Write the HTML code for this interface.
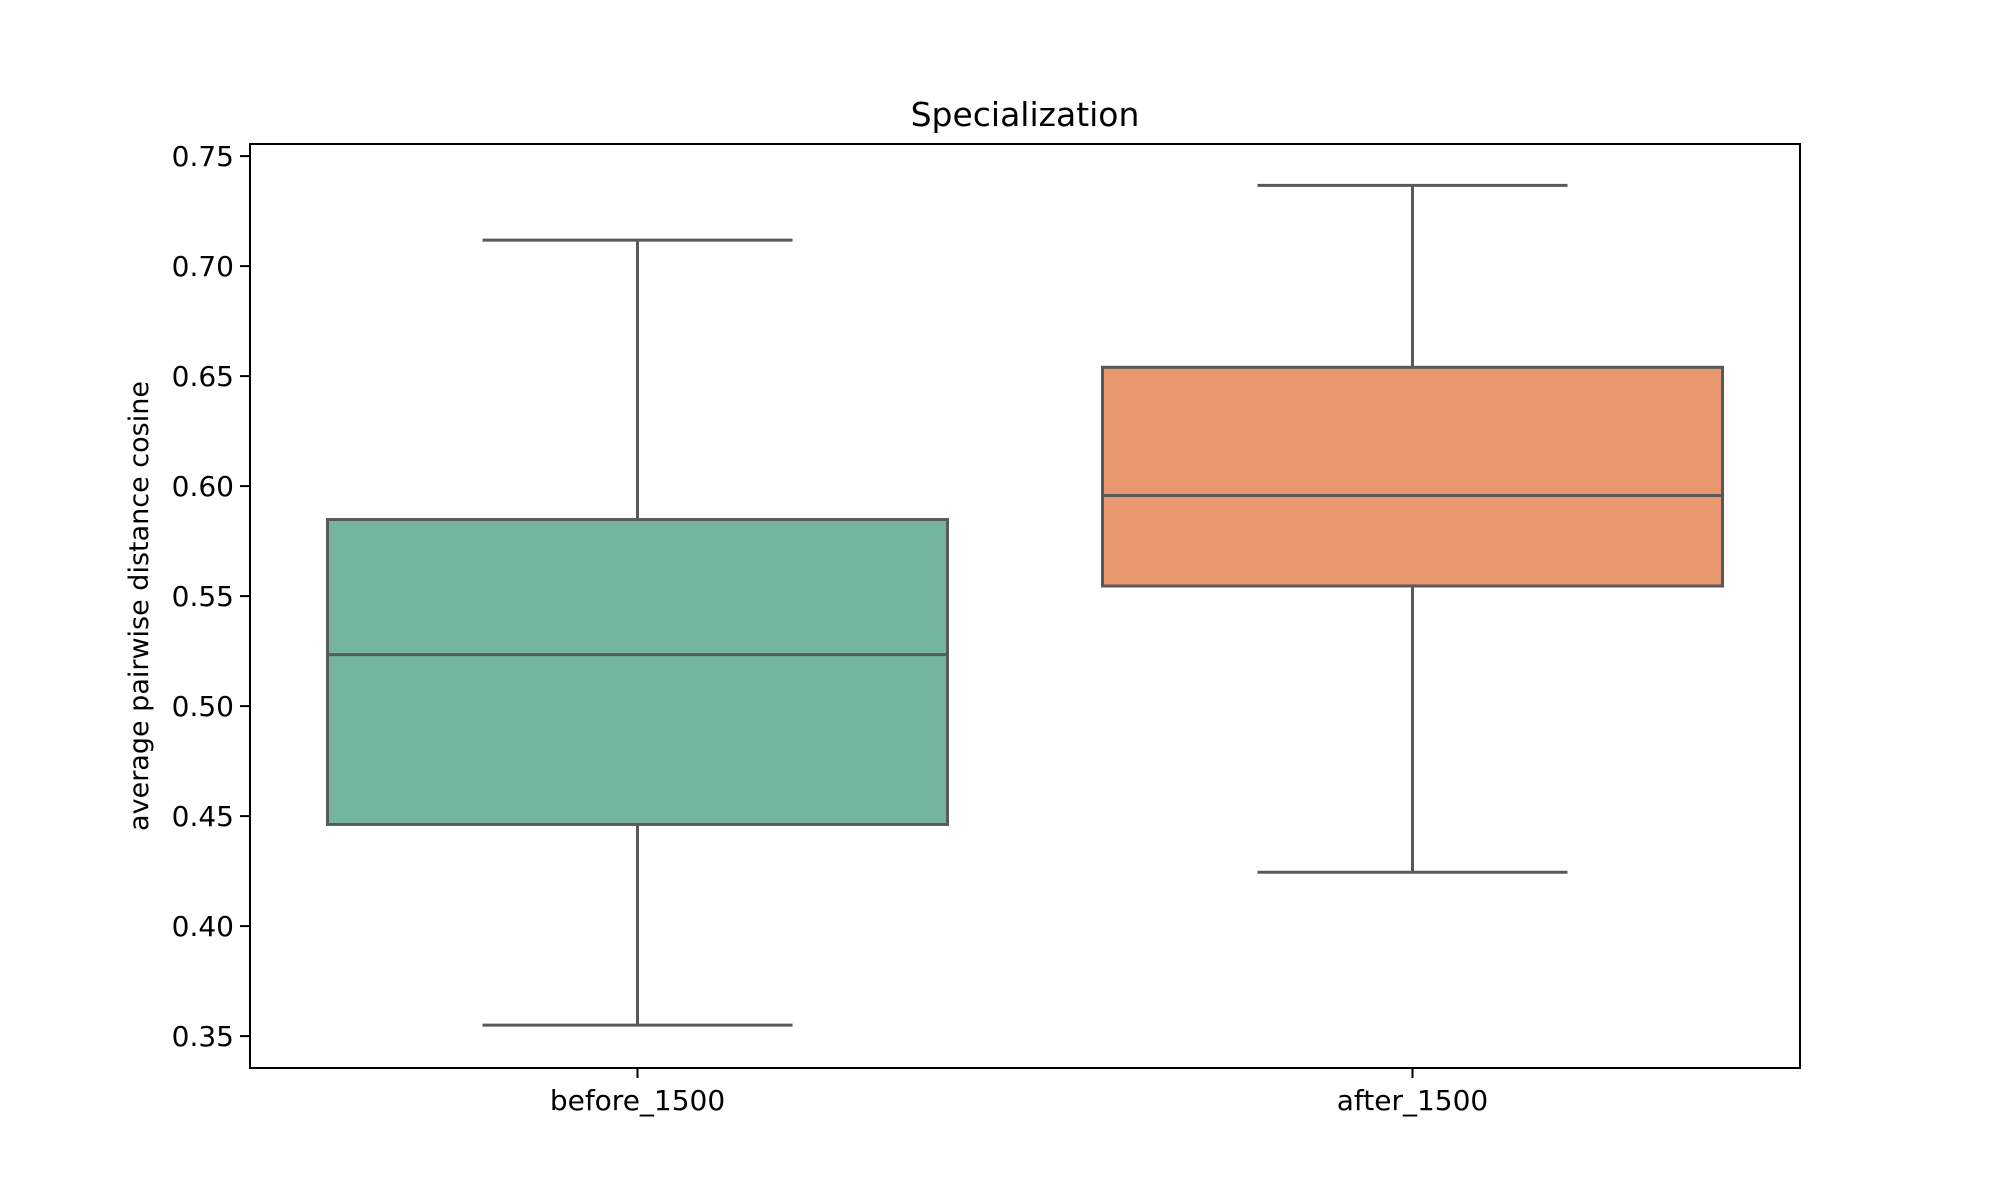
<!DOCTYPE html>
<html><head><meta charset="utf-8"><style>
html,body{margin:0;padding:0;background:#fff}
svg{display:block;font-family:"DejaVu Sans","Liberation Sans",sans-serif}
</style></head><body>
<svg id="chart" width="2000" height="1200" viewBox="0 0 2000 1200" xmlns="http://www.w3.org/2000/svg">
<rect width="2000" height="1200" fill="#fff"/>
<text x="1025" y="126" font-size="33" text-anchor="middle" fill="#000">Specialization</text>
<text transform="translate(148,606) rotate(-90)" font-size="27" text-anchor="middle" fill="#000">average pairwise distance cosine</text>
<g id="marks"></g>
<g id="axes"></g>
</svg>
<script>
const categories = ["before_1500", "after_1500"];
const whiskerLow = [0.355, 0.4245];
const q1Values = [0.4462, 0.5546];
const medians = [0.5234, 0.5957];
const q3Values = [0.5848, 0.6540];
const whiskerHigh = [0.7118, 0.7367];
const boxColors = ["#74b5a0", "#e8976f"];
const yTicks = [0.35, 0.40, 0.45, 0.50, 0.55, 0.60, 0.65, 0.70, 0.75];

const L = 250, R = 1800, T = 144, B = 1068;
const yMin = 0.3355, yMax = 0.7555;
function y(v){ return B - (v - yMin) / (yMax - yMin) * (B - T); }
const band = (R - L) / categories.length;
function xc(i){ return L + band * (i + 0.5); }
const NS = "http://www.w3.org/2000/svg";
function mk(tag, attrs, parent){
  const e = document.createElementNS(NS, tag);
  for (const k in attrs) e.setAttribute(k, attrs[k]);
  parent.appendChild(e);
  return e;
}
const marks = document.getElementById('marks');
const axes = document.getElementById('axes');
const lc = "#595959", lw = 3;
categories.forEach((c, i) => {
  const cx = xc(i), bw = band * 0.8, cw = bw / 2;
  const g = mk('g', {}, marks);
  
  
  const wl = mk('line', {x1: cx, x2: cx, y1: y(whiskerLow[i]), y2: y(q1Values[i]), stroke: lc, 'stroke-width': lw}, g);
  
  
  const wh = mk('line', {x1: cx, x2: cx, y1: y(whiskerHigh[i]), y2: y(q3Values[i]), stroke: lc, 'stroke-width': lw}, g);
  
  
  const cl = mk('line', {x1: cx - cw/2, x2: cx + cw/2, y1: y(whiskerLow[i]), y2: y(whiskerLow[i]), stroke: lc, 'stroke-width': lw}, g);
  
  
  const ch = mk('line', {x1: cx - cw/2, x2: cx + cw/2, y1: y(whiskerHigh[i]), y2: y(whiskerHigh[i]), stroke: lc, 'stroke-width': lw}, g);
  
  
  const bx = mk('rect', {x: cx - bw/2, y: y(q3Values[i]), width: bw, height: y(q1Values[i]) - y(q3Values[i]), fill: boxColors[i], stroke: lc, 'stroke-width': lw}, g);
  
  
  const md = mk('line', {x1: cx - bw/2, x2: cx + bw/2, y1: y(medians[i]), y2: y(medians[i]), stroke: lc, 'stroke-width': lw}, g);
  
  
  const tk = mk('line', {x1: cx, x2: cx, y1: B, y2: B + 10, stroke: '#000', 'stroke-width': 2}, axes);
  
  
  const tl = mk('text', {x: cx, y: B + 42, 'font-size': 28, 'text-anchor': 'middle', fill: '#000'}, axes);
  tl.textContent = c;
  
  
});
yTicks.forEach(v => {
  const yy = y(v);
  const tk = mk('line', {x1: L - 10, x2: L, y1: yy, y2: yy, stroke: '#000', 'stroke-width': 2}, axes);
  
  
  const tl = mk('text', {x: L - 16, y: yy + 10, 'font-size': 28, 'text-anchor': 'end', fill: '#000'}, axes);
  tl.textContent = v.toFixed(2);
  
  
});
const frame = mk('rect', {x: L, y: T, width: R - L, height: B - T, fill: 'none', stroke: '#000', 'stroke-width': 2}, axes);


</script>
</body></html>
